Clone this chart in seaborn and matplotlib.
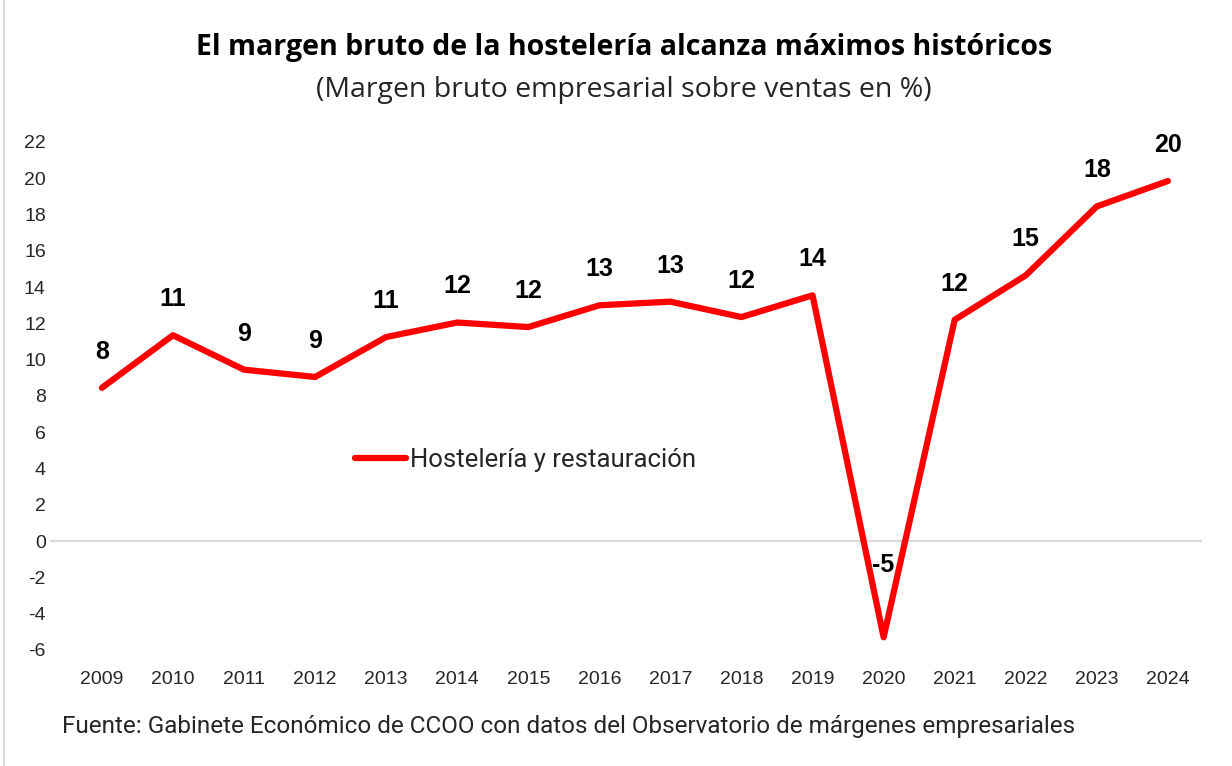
import numpy as np
import pandas as pd
import matplotlib.pyplot as plt
import seaborn as sns

# Chart data
years = ['2009', '2010', '2011', '2012', '2013', '2014', '2015', '2016',
         '2017', '2018', '2019', '2020', '2021', '2022', '2023', '2024']
margen = [8.45, 11.35, 9.45, 9.05, 11.25, 12.05, 11.8, 13.0,
          13.2, 12.35, 13.55, -5.3, 12.2, 14.65, 18.45, 19.85]
y_ticks = list(range(-6, 23, 2))

series_name = 'Hostelería y restauración'
title = 'El margen bruto de la hostelería alcanza máximos históricos'
subtitle = '(Margen bruto empresarial sobre ventas en %)'
source = 'Fuente: Gabinete Económico de CCOO con datos del Observatorio de márgenes empresariales'

df = pd.DataFrame({'year': years, 'margen': margen})
df['x'] = np.arange(len(df))

sns.set_style('white')
plt.rcParams['font.family'] = ['Liberation Sans', 'DejaVu Sans']

fig = plt.figure(figsize=(12.32, 7.66), dpi=100)
ax = fig.add_axes([50 / 1232, 116 / 766, 1152 / 1232, 508 / 766])

ax.axhline(0, color='#d9d9d9', lw=1.5, zorder=1)
sns.lineplot(data=df, x='x', y='margen', color='#ff0000', lw=4.5,
             solid_capstyle='round', label=series_name, ax=ax, zorder=3)

# data labels
for _, row in df.iterrows():
    off = 26 if row['margen'] >= 0 else 52
    ax.annotate(f"{row['margen']:.0f}", (row['x'], row['margen']),
                xytext=(0, off), textcoords='offset points',
                ha='center', va='center', fontsize=18, fontweight='bold',
                color='black', zorder=4)

ax.set_xlim(-0.73, len(years) - 1 + 0.48)
ax.set_ylim(-6, 22)
ax.set_yticks(y_ticks)
ax.set_yticklabels([str(t) for t in y_ticks])
ax.set_xticks(df['x'])
ax.set_xticklabels(years)
ax.tick_params(axis='x', length=0, pad=15, labelsize=14, colors='#262626')
ax.tick_params(axis='y', length=0, pad=3, labelsize=14, colors='#262626')
ax.set_xlabel('')
ax.set_ylabel('')
for s in ax.spines.values():
    s.set_visible(False)

leg = ax.legend(loc='center left', bbox_to_anchor=(305 / 1152, (766 - 460 - 116) / 508),
                frameon=False, borderpad=0, borderaxespad=0,
                handlelength=2.0, handletextpad=0.15,
                prop={'family': 'Roboto', 'size': 18.5})
for t in leg.get_texts():
    t.set_color('#262626')

fig.text(0.507, 1 - 47 / 766, title, ha='center', va='center',
         fontsize=20.5, fontweight='bold', family='Open Sans', color='black')
fig.text(0.506, 1 - 90 / 766, subtitle, ha='center', va='center',
         fontsize=20.5, family='Open Sans', color='#262626')
fig.text(62 / 1232, 1 - 727 / 766, source, ha='left', va='center',
         fontsize=17.5, family='Roboto', color='#262626')

# thin frame line on the left edge
fig.add_artist(plt.Line2D([4 / 1232, 4 / 1232], [0, 1], color='#d9d9d9', lw=1.5))

fig.savefig('out.png', dpi=100)
